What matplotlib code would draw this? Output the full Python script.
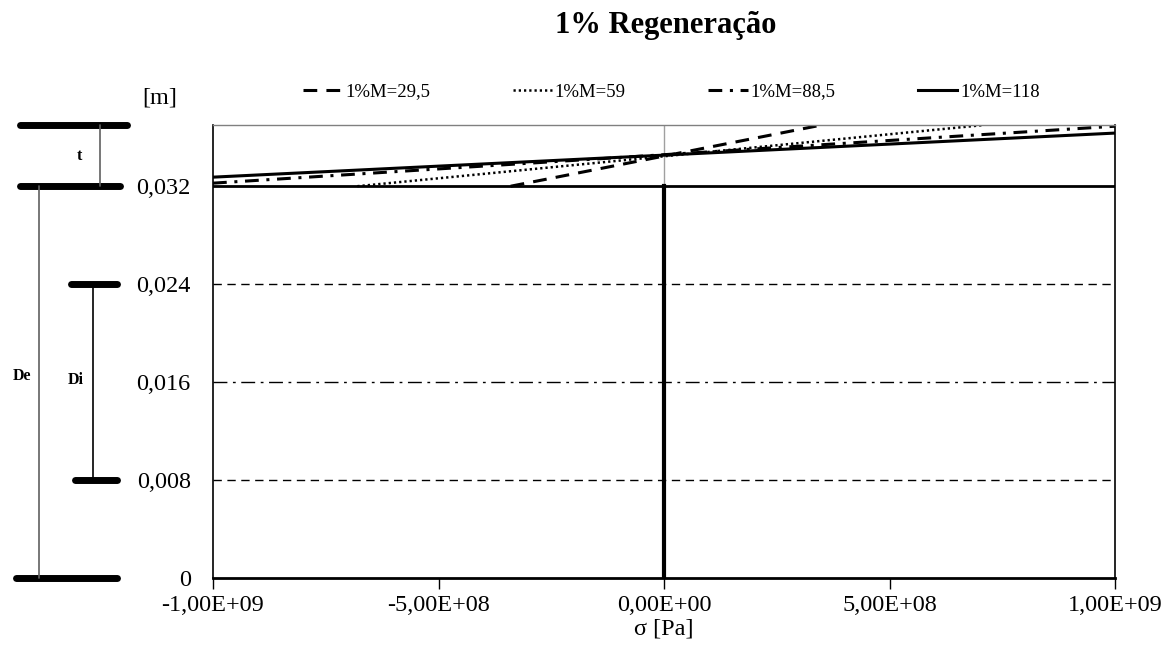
import matplotlib
matplotlib.use('Agg')
import matplotlib.pyplot as plt
from matplotlib.transforms import blended_transform_factory
from matplotlib.ticker import FuncFormatter

plt.rcParams['font.family'] = ['Liberation Serif', 'DejaVu Serif']

# series: stress [Pa] vs height [m]
labels = ['1%M=29,5', '1%M=59', '1%M=88,5', '1%M=118']
sigma_m29 = [-3.4e8, 3.5e8]
y_m29 = [0.032, 0.037]
sigma_m59 = [-6.8e8, 7.1e8]
y_m59 = [0.032, 0.037]
sigma_m88 = [-1.0e9, 1.0e9]
y_m88 = [0.03225, 0.0369]
sigma_m118 = [-1.0e9, 1.0e9]
y_m118 = [0.03274, 0.03634]

# geometry levels [m]
De_top = 0.032
Di_top = 0.024
Di_mid = 0.016
Di_bot = 0.008
t_top = 0.037

yticks = [0, 0.008, 0.016, 0.024, 0.032]
xticks = [-1e9, -5e8, 0, 5e8, 1e9]

fig = plt.figure(figsize=(11.75, 6.59), dpi=100)
ax = fig.add_axes([213/1175, 1-578/659, 902/1175, 453/659])

# reference geometry lines
ax.axvline(0, color='#a0a0a0', lw=1, zorder=1)
ax.plot([0, 0], [0, De_top], color='black', lw=3, zorder=3)
ax.axhline(De_top, color='black', lw=2, zorder=3)
ax.axhline(Di_top, color='black', lw=1, ls=(0, (6, 4)))
ax.axhline(Di_mid, color='black', lw=1, ls=(0, (10, 4, 2, 4)))
ax.axhline(Di_bot, color='black', lw=1, ls=(0, (6, 4)))

ax.plot(sigma_m29, y_m29, color='black', lw=2.2, ls=(0, (4.5, 3)), label=labels[0])
ax.plot(sigma_m59, y_m59, color='black', lw=1.8, ls=(0, (0.9, 1.2)), label=labels[1])
ax.plot(sigma_m88, y_m88, color='black', lw=2.2, ls=(0, (4.5, 2.5, 1, 2.5)), label=labels[2])
ax.plot(sigma_m118, y_m118, color='black', lw=2.2, ls='-', label=labels[3])

ax.set_xlim(-1e9, 1e9)
ax.set_ylim(0, t_top)
ax.set_xticks(xticks)
ax.set_yticks(yticks)
ax.xaxis.set_major_formatter(FuncFormatter(
    lambda v, p: ('%.2E' % v).replace('.', ',').replace('E+9', 'E+09')))
ax.yaxis.set_major_formatter(FuncFormatter(
    lambda v, p: '0' if v == 0 else ('%.3f' % v).replace('.', ',')))
ax.tick_params(axis='x', direction='out', length=8, width=1, labelsize=17.5, pad=4)
ax.tick_params(axis='y', length=0, labelsize=17.5, pad=16)
for s in ['left', 'bottom', 'right']:
    ax.spines[s].set_color('black')
    ax.spines[s].set_linewidth(1.2)
ax.spines['bottom'].set_linewidth(2)
ax.spines['top'].set_color('#808080')
ax.spines['top'].set_linewidth(1)

ax.set_xlabel('σ [Pa]', fontsize=17.5, labelpad=2)

fig.text(666/1175, 1-25/659, '1% Regeneração', ha='center', va='center',
         fontsize=22, fontweight='bold')
fig.text(160/1175, 1-98/659, '[m]', ha='center', va='center', fontsize=17.5)

fig.legend(loc='center left', bbox_to_anchor=(303/1175, 1-92/659), ncol=4,
           frameon=False, fontsize=13.5, handlelength=2.1, handletextpad=0.15,
           columnspacing=4.4, borderpad=0, borderaxespad=0)

# geometry sketch on the left (x in figure fraction, y in data)
tr = blended_transform_factory(fig.transFigure, ax.transData)
def seg(x0, x1, y0, y1, lw, c='black'):
    ax.plot([x0/1175, x1/1175], [y0, y1], color=c, lw=lw, transform=tr,
            clip_on=False, solid_capstyle='round')

seg(20, 127, t_top, t_top, 5)
seg(20, 120, De_top, De_top, 5)
seg(100, 100, De_top, t_top, 1.2, '#606060')
seg(16, 117, 0, 0, 5)
seg(39, 39, 0, De_top, 1.2, '#606060')
seg(71, 117, Di_top, Di_top, 5)
seg(75, 117, Di_bot, Di_bot, 5)
seg(93, 93, Di_bot, Di_top, 1.2)
ax.text(79/1175, (De_top+t_top)/2, 't', transform=tr, ha='center', va='center',
        fontsize=11.5, fontweight='bold')
ax.text(22/1175, 0.0165, 'De', transform=tr, ha='center', va='center',
        fontsize=11.5, fontweight='bold')
ax.text(76/1175, 0.0162, 'Di', transform=tr, ha='center', va='center',
        fontsize=11.5, fontweight='bold')

fig.savefig('out.png', dpi=100)
